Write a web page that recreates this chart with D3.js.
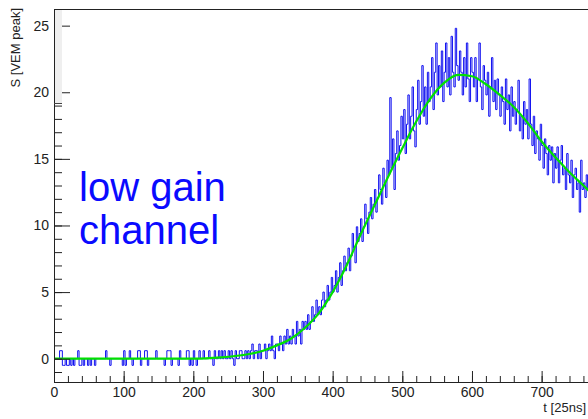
<!DOCTYPE html>
<html>
<head>
<meta charset="utf-8">
<script src="https://cdn.jsdelivr.net/npm/d3@7"></script>
<style>
  body { margin: 0; background: #fff; }
  svg { display: block; font-family: "Liberation Sans", Arial, sans-serif; }
</style>
</head>
<body>
<main></main>
<script>
// trace of the low gain channel, bins of 2 time units (t in 25ns)
const binWidth = 2;
const signal = [
  0,0,0,0,0.6,0.6,-0.5,-0.5,0,-0.5,
  -0.5,0,-0.5,0,-0.5,0,0,0.6,-0.5,-0.5,
  0,-0.5,0,0,-0.5,0,-0.5,0,0,-0.5,
  0,0,0,0,0,0,0,0.6,0,0,
  -0.5,0,0,0,0,0,0,0,0,-0.5,
  0.6,-0.5,0,0,0.6,0,-0.5,0,0,0,
  0.6,0.6,-0.5,0,0,0.6,0.6,-0.5,0,0,
  0,0,0,0.6,0,0,0,0,0,-0.5,
  0,0.6,0.6,0.6,-0.5,0,0,0,0,-0.5,
  0.6,0,0,0,0,0.6,0.6,-0.5,0,-0.5,
  0.6,0,-0.5,0,0.6,0,0,0.6,0,0,
  0,0.6,0,0,-0.5,0.6,0,0,0.6,0,
  0.6,0,0.6,0,0,0.6,0,0.6,0,-0.5,
  0.6,0,0,0.6,0.6,0,0,0.6,0,0.6,
  0,0.6,1.1,0,0.6,0.6,0,1.1,0,0.6,
  0.6,1.1,0,0.6,1.1,0.6,1.7,0.6,0,1.1,
  1.1,0.6,1.7,1.1,0.6,1.7,1.1,2.2,1.1,1.7,
  1.1,2.2,1.7,1.1,2.8,1.7,2.2,1.1,2.8,2.2,
  2.8,2.2,3.3,2.2,2.8,3.9,2.8,3.3,4.4,3.3,
  3.9,3.3,4.4,5.0,3.9,4.4,5.5,4.4,5.0,6.1,
  5.0,5.5,6.6,5.0,6.1,7.2,5.5,6.6,7.7,6.6,
  7.2,8.3,6.6,7.7,9.4,8.3,7.2,9.9,8.8,9.4,
  10.5,8.8,9.9,11.6,10.5,9.4,11.0,12.1,10.5,11.6,
  12.7,11.0,12.1,13.8,12.7,11.6,14.3,13.2,12.1,14.9,
  13.8,19.6,14.3,16.5,12.7,15.4,17.1,14.9,16.0,18.2,
  16.5,18.7,15.4,17.6,19.8,16.5,18.2,20.4,17.1,15.9,
  18.7,20.9,17.6,19.3,22.0,18.2,20.4,17.6,21.5,19.3,
  20.4,22.6,18.7,21.5,23.7,19.8,22.0,20.4,23.1,19.3,
  21.5,23.7,20.4,22.6,19.8,24.2,21.5,20.4,24.8,22.0,
  20.9,23.1,21.5,19.8,22.6,20.4,23.7,21.0,19.3,22.6,
  21.5,20.4,22.6,19.3,21.0,23.7,20.4,18.7,22.0,20.9,
  19.8,21.5,18.2,20.4,22.6,19.3,20.9,18.7,21.0,19.8,
  18.2,20.4,19.3,17.6,21.0,18.7,19.8,17.1,20.4,18.2,
  19.3,17.6,18.7,20.9,17.1,18.2,16.5,19.3,17.6,18.7,
  16.5,21.0,17.6,16.0,18.2,15.4,17.1,16.5,14.9,17.6,
  16.0,14.3,16.5,15.4,13.8,16.0,14.9,15.9,13.2,15.4,
  14.3,15.9,13.2,14.9,16.0,13.8,14.3,12.7,15.4,13.8,
  13.2,14.9,12.1,13.8,14.3,12.7,13.2,11.0,14.9,12.7,
  13.2,12.1,13.8,12.7
];

const fitT = [0,200,240,260,280,300,320,340,360,380,400,420,440,460,480,500,520,540,560,580,600,620,640,660,680,700,720,740,760,768];
const fitS = [0,0,0.1,0.2,0.35,0.6,1.0,1.5,2.3,3.4,5.0,7.0,9.3,11.5,13.7,15.8,17.8,19.5,20.7,21.3,21.2,20.6,19.8,18.9,17.7,16.3,15.1,14.0,13.0,12.6];

const xTicks = [0,100,200,300,400,500,600,700];
const yTicks = [0,5,10,15,20,25];
const labelLines = ["low gain", "channel"];

const svgSize = { width: 588, height: 419 };
const frame = { left: 54, right: 589, top: 9, bottom: 382 };

const createCanvas = () => {
  return d3.select("main")
           .append("svg")
           .attr("width", svgSize.width)
           .attr("height", svgSize.height);
};

const defineScales = () => {
  const xScale = d3.scaleLinear()
                   .domain([0, 768])
                   .range([frame.left, frame.right]);
  const yScale = d3.scaleLinear()
                   .domain([-1.75, 26.25])
                   .range([frame.bottom, frame.top]);
  return { xScale, yScale };
};

const createAxes = (svg, scales) => {
  const minorX = d3.range(0, 769, 20);
  const minorY = d3.range(-1, 27, 1);

  // minor ticks first
  svg.append("g")
     .attr("transform", `translate(0, ${frame.bottom})`)
     .call(d3.axisBottom(scales.xScale).tickValues(minorX).tickSize(-6).tickSizeOuter(0).tickFormat(""))
     .call(g => g.select(".domain").remove());
  svg.append("g")
     .attr("transform", `translate(${frame.left}, 0)`)
     .call(d3.axisLeft(scales.yScale).tickValues(minorY).tickSize(-8).tickSizeOuter(0).tickFormat(""))
     .call(g => g.select(".domain").remove());

  const xAxis = svg.append("g")
     .attr("id", "x-axis")
     .attr("transform", `translate(0, ${frame.bottom})`)
     .call(d3.axisBottom(scales.xScale).tickValues(xTicks).tickSize(-11).tickSizeOuter(0).tickPadding(5).tickFormat(d3.format("d")));
  const yAxis = svg.append("g")
     .attr("id", "y-axis")
     .attr("transform", `translate(${frame.left}, 0)`)
     .call(d3.axisLeft(scales.yScale).tickValues(yTicks).tickSize(-16).tickSizeOuter(0).tickPadding(5).tickFormat(d3.format("d")));

  [xAxis, yAxis].forEach(g => {
    g.select(".domain").remove();
    g.selectAll("text").attr("font-size", 14).attr("fill", "#222").attr("font-family", "Liberation Sans, Arial, sans-serif");
  });
  svg.selectAll(".tick line").attr("stroke", "#222");

  // frame
  svg.append("rect")
     .attr("x", frame.left + 0.5)
     .attr("y", frame.top + 0.5)
     .attr("width", frame.right - frame.left)
     .attr("height", frame.bottom - frame.top)
     .attr("fill", "none")
     .attr("stroke", "#222");

  svg.append("text")
     .attr("x", 586)
     .attr("y", 412)
     .attr("text-anchor", "end")
     .attr("font-size", 13)
     .attr("fill", "#222")
     .text("t [25ns]");

  svg.append("text")
     .attr("transform", "translate(19.5, 8) rotate(-90)")
     .attr("text-anchor", "end")
     .attr("font-size", 13)
     .attr("fill", "#222")
     .text("S [VEM peak]");
};

const createTrace = (svg, scales) => {
  const pts = signal.map((v, i) => [i * binWidth, v]);
  pts.push([signal.length * binWidth, signal[signal.length - 1]]);

  svg.append("clipPath")
     .attr("id", "plot-clip")
     .append("rect")
     .attr("x", frame.left)
     .attr("y", frame.top)
     .attr("width", frame.right - frame.left)
     .attr("height", frame.bottom - frame.top);

  const line = d3.line()
                 .x(d => scales.xScale(d[0]))
                 .y(d => scales.yScale(d[1]))
                 .curve(d3.curveStepAfter);

  svg.append("path")
     .datum(pts)
     .attr("clip-path", "url(#plot-clip)")
     .attr("d", line)
     .attr("fill", "none")
     .attr("stroke", "#1010f0")
     .attr("stroke-width", 1);

  const fitLine = d3.line()
                    .x((d, i) => scales.xScale(fitT[i]))
                    .y(d => scales.yScale(d))
                    .curve(d3.curveMonotoneX);

  svg.append("path")
     .datum(fitS)
     .attr("clip-path", "url(#plot-clip)")
     .attr("d", fitLine)
     .attr("fill", "none")
     .attr("stroke", "#00e000")
     .attr("stroke-width", 2.2);
};

const createLabel = (svg) => {
  svg.append("text")
     .attr("font-size", 40)
     .attr("fill", "#0a0aff")
     .selectAll("tspan")
     .data(labelLines)
     .enter()
     .append("tspan")
     .attr("x", 79)
     .attr("y", (d, i) => 201 + i * 42.5)
     .text(d => d);
};

const createCorner = (svg) => {
  // pale box sitting over the upper left of the frame
  svg.append("rect")
     .attr("x", frame.left + 1)
     .attr("y", frame.top + 1)
     .attr("width", 7)
     .attr("height", 93)
     .attr("fill", "#efefef");
  svg.append("line")
     .attr("x1", frame.left)
     .attr("x2", frame.left + 8)
     .attr("y1", 103.5)
     .attr("y2", 103.5)
     .attr("stroke", "#444");
};

const driver = () => {
  const svg = createCanvas();
  const scales = defineScales();
  createTrace(svg, scales);
  createAxes(svg, scales);
  createCorner(svg);
  createLabel(svg);
};
driver();
</script>
</body>
</html>
